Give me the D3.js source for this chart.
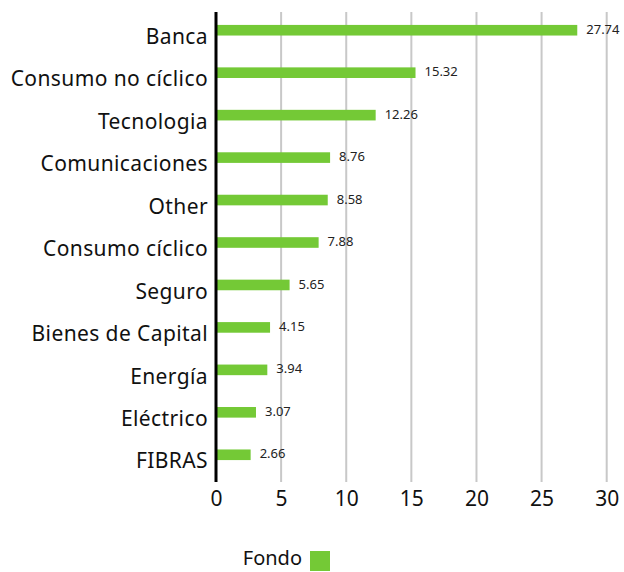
<!DOCTYPE html>
<html><head><meta charset="utf-8">
<script src="https://cdn.jsdelivr.net/npm/d3@7"></script>
<style>body{margin:0;background:#fff}svg{display:block}</style>
</head><body>
<script>
const categories = ["Banca","Consumo no cíclico","Tecnologia","Comunicaciones","Other","Consumo cíclico","Seguro","Bienes de Capital","Energía","Eléctrico","FIBRAS"];
const values = [27.74,15.32,12.26,8.76,8.58,7.88,5.65,4.15,3.94,3.07,2.66];
const ticks = [0,5,10,15,20,25,30];
const seriesName = "Fondo";

const W=624,H=572;
const svg=d3.select("body").append("svg").attr("width",W).attr("height",H);
const font="'Noto Sans', sans-serif";
const x=d3.scaleLinear().domain([0,30]).range([216,606.7]);
const y=d3.scaleBand().domain(categories).range([9,476]).paddingInner(0.75).paddingOuter(0.375);

// grid
svg.append("g").selectAll("line").data(ticks.slice(1)).join("line")
  .attr("x1",d=>x(d)).attr("x2",d=>x(d)).attr("y1",12).attr("y2",482)
  .attr("stroke","#c8c8c8").attr("stroke-width",2);

// bars
svg.append("g").selectAll("rect").data(values).join("rect")
  .attr("x",x(0)).attr("y",(d,i)=>y(categories[i]))
  .attr("width",d=>x(d)-x(0)).attr("height",y.bandwidth())
  .attr("fill","#74c936");

// value labels
svg.append("g").selectAll("text").data(values).join("text")
  .attr("x",d=>x(d)+9).attr("y",(d,i)=>y(categories[i])+y.bandwidth()/2-1)
  .attr("dy","0.35em").attr("font-family",font).attr("font-size",13).attr("fill","#222")
  .text(d=>d.toFixed(2));

// y axis
const ya=svg.append("g").attr("transform",`translate(${x(0)},0)`).call(d3.axisLeft(y).tickSize(0).tickPadding(8));
ya.select(".domain").remove();
ya.selectAll("text").attr("font-family",font).attr("font-size",21).attr("letter-spacing",0.4).attr("fill","#111").attr("dy","0.65em");
svg.append("line").attr("x1",x(0)).attr("x2",x(0)).attr("y1",12).attr("y2",482).attr("stroke","#000").attr("stroke-width",3);

// x axis
const xa=svg.append("g").attr("transform","translate(0,482)").call(d3.axisBottom(x).tickValues(ticks).tickSize(0).tickPadding(9).tickFormat(d3.format("d")));
xa.select(".domain").remove();
xa.selectAll("text").attr("font-family",font).attr("font-size",21).attr("fill","#111");

// legend
const lg=svg.append("g");
lg.append("text").attr("x",302).attr("y",565).attr("text-anchor","end").attr("font-family",font).attr("font-size",20).attr("fill","#111").text(seriesName);
lg.append("rect").attr("x",310).attr("y",551).attr("width",20).attr("height",20).attr("fill","#74c936");
</script>
</body></html>
